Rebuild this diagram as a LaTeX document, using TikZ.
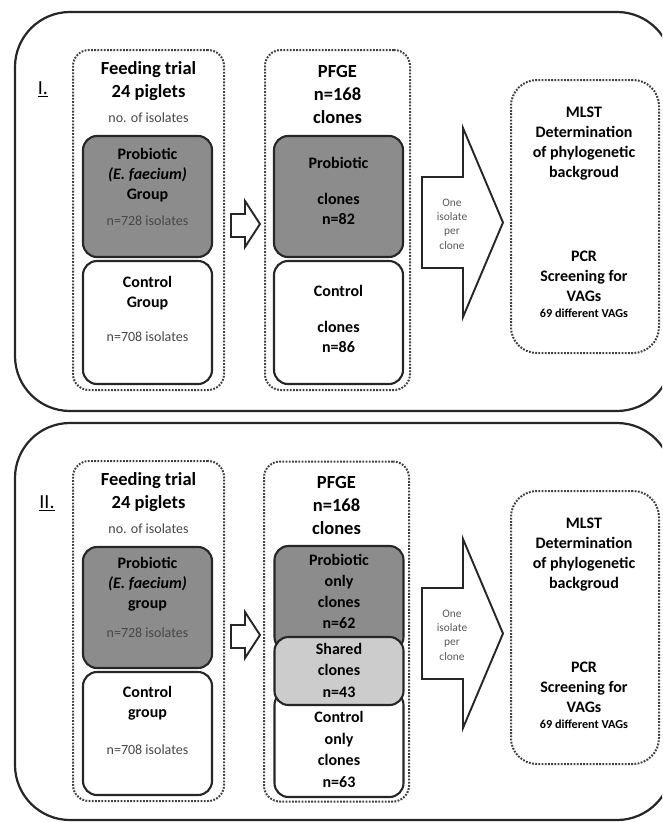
\documentclass[tikz,border=0pt]{standalone}
\usepackage{fontspec}
\setmainfont{Carlito}
\usepackage{tikz}

\tikzset{
  panel/.style={draw=black!85, line width=2.2pt, rounded corners=55pt},
  dotbox/.style={draw=black!75, line width=2pt, dash pattern=on 1.8pt off 1.4pt, rounded corners=16pt},
  grpbox/.style={draw=black!85, line width=2.1pt, rounded corners=14pt, fill=white},
  darkbox/.style={grpbox, fill=black!45},
  lightbox/.style={grpbox, fill=black!20},
  headtxt/.style={font=\fontsize{18.5}{23}\selectfont\bfseries, align=center},
  grptxt/.style={font=\fontsize{16}{20}\selectfont\bfseries, align=center},
  numtxt/.style={font=\fontsize{14}{17}\selectfont, text=black!72},
  arrtxt/.style={font=\fontsize{11.4}{14.4}\selectfont, text=black!65, align=center},
  blockarrow/.style={draw=black!85, line width=1.9pt, fill=white, line join=miter},
}

\begin{document}
\begin{tikzpicture}[x=1pt,y=1pt]
\tikzstyle{every node}+=[inner sep=0pt]
\useasboundingbox (0,0) rectangle (662,-822);
\clip (0,0) rectangle (662,-822);
% panel I
\draw [panel] (15,-12) rectangle (672,-411);
\node [font=\fontsize{20}{24}\selectfont] (numA) at (43,-89) {\underline{I.}};
\node [dotbox, minimum width=151pt, minimum height=340pt] (feedA) at (148.5,-220) {};
\node [headtxt] (feedtitleA) at (148.5,-81) {Feeding trial\\24 piglets};
\node [numtxt] (isoA) at (148.5,-118) {no. of isolates};
\node [darkbox, minimum width=129pt, minimum height=121pt] (probA) at (147.5,-196.5) {};
\node [grptxt] (probtxtA) at (147.5,-175) {Probiotic\\\textit{(E. faecium)}\\Group};
\node [numtxt] (probnA) at (147.5,-221) {n=728 isolates};
\node [grpbox, minimum width=129pt, minimum height=123pt] (ctrlA) at (147.5,-322.5) {};
\node [grptxt] (ctrltxtA) at (147.5,-293) {Control\\Group};
\node [numtxt] (ctrlnA) at (147.5,-337) {n=708 isolates};
\draw [blockarrow] (231,-214) -- (245,-214) -- (245,-201) -- (260,-224) -- (245,-247) -- (245,-237) -- (231,-237) -- cycle;
\node [dotbox, minimum width=145pt, minimum height=340pt] (pfgeA) at (337.5,-220) {};
\node [headtxt] (pfgetitleA) at (337.5,-94) {PFGE\\n=168\\clones};
\node [darkbox, minimum width=129pt, minimum height=121pt] (cprobA) at (338.5,-196.5) {};
\node [grptxt] (cprobtxtA) at (338.5,-163) {Probiotic};
\node [grptxt] (cprobnA) at (338.5,-208.5) {clones\\n=82};
\node [grpbox, minimum width=129pt, minimum height=123pt] (cctrlA) at (338.5,-322.5) {};
\node [grptxt] (cctrltxtA) at (338.5,-291) {Control};
\node [grptxt] (cctrlnA) at (338.5,-337) {clones\\n=86};
\draw [blockarrow] (422,-177) -- (463,-177) -- (463,-128) -- (503,-222.5) -- (463,-317) -- (463,-268) -- (422,-268) -- cycle;
\node [arrtxt] (pickA) at (452,-224) {One\\isolate\\per\\clone};
\node [dotbox, rounded corners=26pt, minimum width=148pt, minimum height=273pt] (typA) at (585,-216.5) {};
\node [grptxt] (mlstA) at (584,-144) {MLST\\Determination\\of phylogenetic\\backgroud};
\node [grptxt] (pcrA) at (584,-276) {PCR\\Screening for\\VAGs};
\node [font=\fontsize{12.2}{14}\selectfont\bfseries] (vagA) at (584,-313) {69 different VAGs};
% panel II
\begin{scope}[yshift=-411pt]
\draw [panel] (15,-12) rectangle (672,-409);
\node [font=\fontsize{20}{24}\selectfont] (numB) at (47,-92) {\underline{II.}};
\node [dotbox, minimum width=151pt, minimum height=340pt] (feedB) at (148.5,-220) {};
\node [headtxt] (feedtitleB) at (148.5,-81) {Feeding trial\\24 piglets};
\node [numtxt] (isoB) at (148.5,-118) {no. of isolates};
\node [darkbox, minimum width=129pt, minimum height=121pt] (probB) at (147.5,-196.5) {};
\node [grptxt] (probtxtB) at (147.5,-173) {Probiotic\\\textit{(E. faecium)}\\group};
\node [numtxt] (probnB) at (147.5,-222) {n=728 isolates};
\node [grpbox, minimum width=129pt, minimum height=123pt] (ctrlB) at (147.5,-322.5) {};
\node [grptxt] (ctrltxtB) at (147.5,-292) {Control\\group};
\node [numtxt] (ctrlnB) at (147.5,-339) {n=708 isolates};
\draw [blockarrow] (231,-214) -- (245,-214) -- (245,-201) -- (260,-224) -- (245,-247) -- (245,-237) -- (231,-237) -- cycle;
\node [dotbox, minimum width=145pt, minimum height=340pt] (pfgeB) at (336.5,-220.5) {};
\node [headtxt] (pfgetitleB) at (336.5,-94) {PFGE\\n=168\\clones};
\node [darkbox, minimum width=129pt, minimum height=105pt] (cprobB) at (339,-187.5) {};
\node [grpbox, minimum width=129pt, minimum height=106pt] (cctrlB) at (339,-333) {};
\node [lightbox, minimum width=129pt, minimum height=68pt] (csharedB) at (339,-260) {};
\node [grptxt, font=\fontsize{16}{21}\selectfont\bfseries] (cprobtxtB) at (339,-180.5) {Probiotic\\only\\clones\\n=62};
\node [grptxt, font=\fontsize{16}{21.5}\selectfont\bfseries] (csharedtxtB) at (339,-259) {Shared\\clones\\n=43};
\node [grptxt, font=\fontsize{16}{21.5}\selectfont\bfseries] (cctrltxtB) at (339,-338.5) {Control\\only\\clones\\n=63};
\draw [blockarrow] (422,-177) -- (463,-177) -- (463,-128) -- (503,-222.5) -- (463,-317) -- (463,-268) -- (422,-268) -- cycle;
\node [arrtxt] (pickB) at (452,-224) {One\\isolate\\per\\clone};
\node [dotbox, rounded corners=26pt, minimum width=148pt, minimum height=273pt] (typB) at (585,-216.5) {};
\node [grptxt] (mlstB) at (584,-144) {MLST\\Determination\\of phylogenetic\\backgroud};
\node [grptxt] (pcrB) at (584,-276) {PCR\\Screening for\\VAGs};
\node [font=\fontsize{12.2}{14}\selectfont\bfseries] (vagB) at (584,-313) {69 different VAGs};
\end{scope}
\end{tikzpicture}
\end{document}
